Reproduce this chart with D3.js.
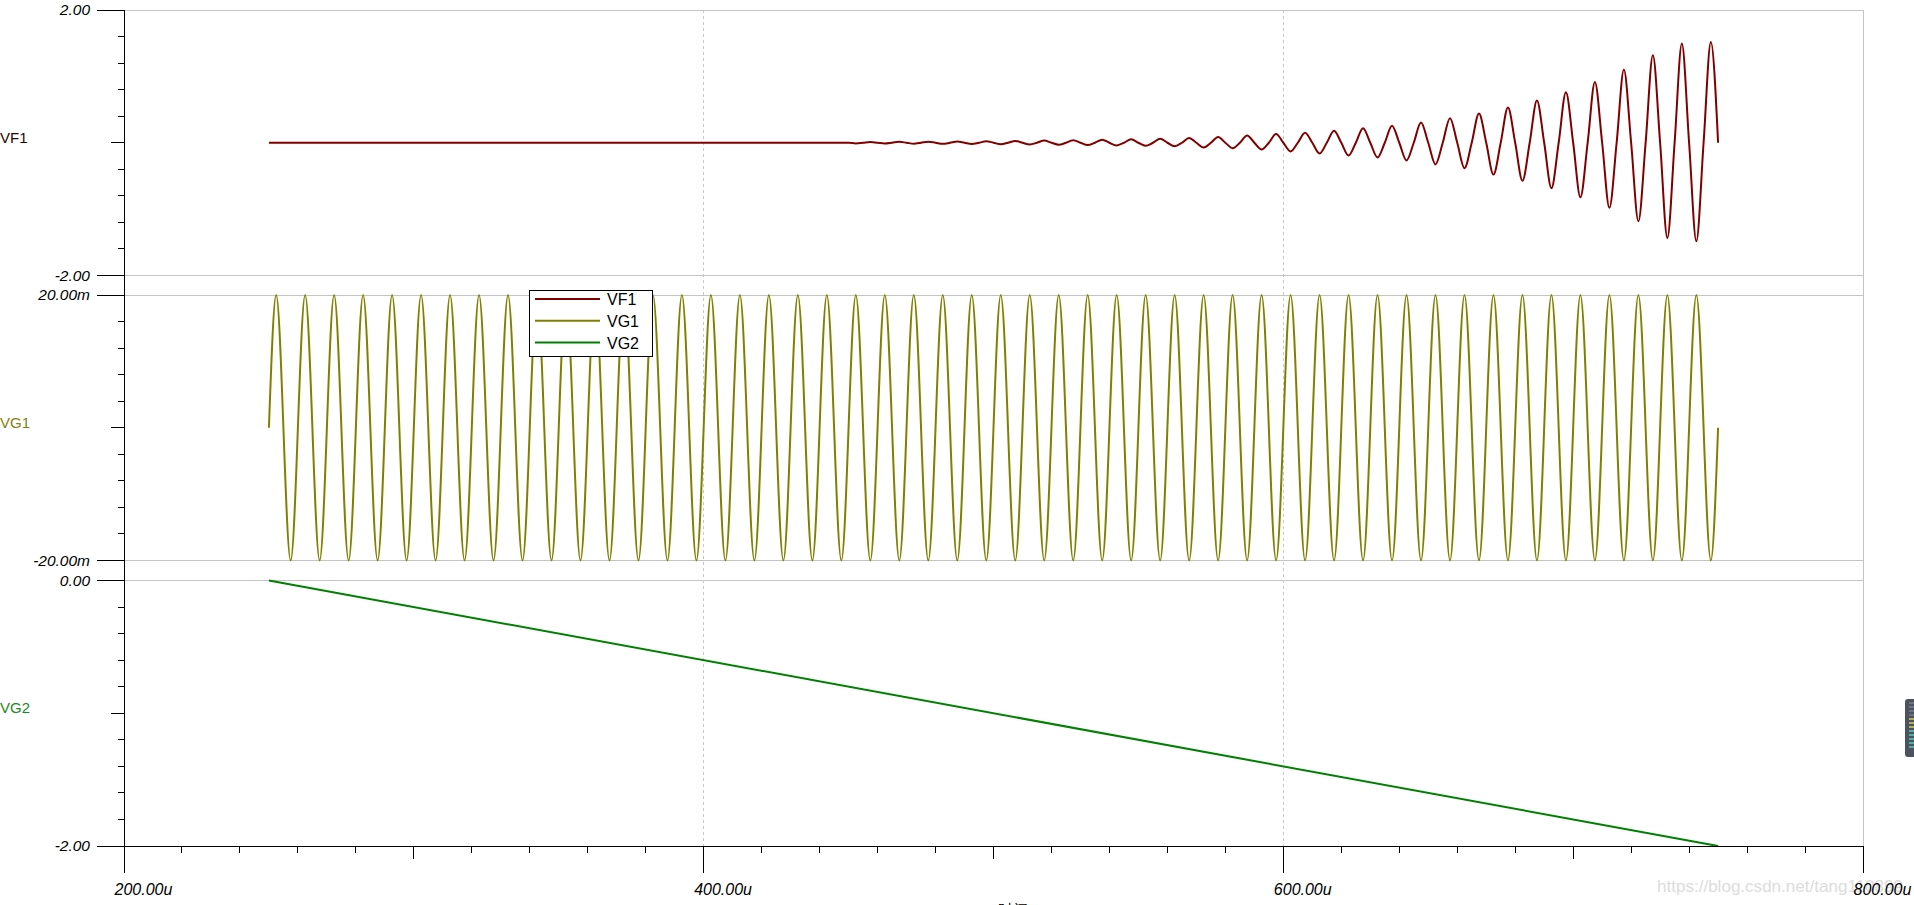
<!DOCTYPE html>
<html>
<head>
<meta charset="utf-8">
<script src="https://cdn.jsdelivr.net/npm/d3@7"></script>
<style>
  html, body { margin: 0; padding: 0; background: #fff; overflow: hidden; }
  svg { display: block; }
  text { font-family: "Liberation Sans", Arial, sans-serif; }
</style>
</head>
<body>
<svg id="chart" width="1914" height="905"></svg>
<script>
// ---------------- data ----------------
const seriesNames = ["VF1", "VG1", "VG2"];
const yTopLabels = ["2.00", "20.00m", "0.00"];
const yBottomLabels = ["-2.00", "-20.00m", "-2.00"];
const yDomains = [[-2, 2], [-20, 20], [-2, 0]];          // VG1 in mV
const xTickLabels = ["200.00u", "400.00u", "600.00u", "800.00u"];
const xTickValues = [200, 400, 600, 800];               // microseconds

// VF1: flat 0 from 250u to 450u, then a growing oscillation (10u period)
const vf1FlatTimes = [250, 450];
const vf1FlatValues = [0, 0];
const vf1TroughTimes = [452.5, 462.5, 472.5, 482.5, 492.5, 502.5, 512.5, 522.5, 532.5, 542.5,
  552.5, 562.5, 572.5, 582.5, 592.5, 602.5, 612.5, 622.5, 632.5, 642.5,
  652.5, 662.5, 672.5, 682.5, 692.5, 702.5, 712.5, 722.5, 732.5, 742.5];
const vf1TroughValues = [-0.010, -0.012, -0.014, -0.016, -0.019, -0.022, -0.026, -0.030, -0.035, -0.040,
  -0.045, -0.053, -0.071, -0.082, -0.101, -0.131, -0.161, -0.192, -0.222, -0.267,
  -0.327, -0.383, -0.479, -0.574, -0.685, -0.821, -0.981, -1.183, -1.434, -1.485];
const vf1PeakTimes = [457.5, 467.5, 477.5, 487.5, 497.5, 507.5, 517.5, 527.5, 537.5, 547.5,
  557.5, 567.5, 577.5, 587.5, 597.5, 607.5, 617.5, 627.5, 637.5, 647.5,
  657.5, 667.5, 677.5, 687.5, 697.5, 707.5, 717.5, 727.5, 737.5, 747.5];
const vf1PeakValues = [0.012, 0.014, 0.016, 0.019, 0.022, 0.027, 0.033, 0.039, 0.045, 0.052,
  0.060, 0.072, 0.088, 0.110, 0.130, 0.151, 0.181, 0.220, 0.257, 0.306,
  0.371, 0.442, 0.532, 0.638, 0.759, 0.915, 1.102, 1.318, 1.494, 1.519];
const vf1CrossTimes = [455, 465, 475, 485, 495, 505, 515, 525, 535, 545, 555, 565, 575, 585, 595,
  605, 615, 625, 635, 645, 655, 665, 675, 685, 695, 705, 715, 725, 735, 745,
  460, 470, 480, 490, 500, 510, 520, 530, 540, 550, 560, 570, 580, 590, 600,
  610, 620, 630, 640, 650, 660, 670, 680, 690, 700, 710, 720, 730, 740, 750];

// VG1: 20mV sine, 10u period, from 250u to 750u (50 cycles); extremes in mV
const vg1Start = 250, vg1End = 750, vg1Period = 10;
const vg1PeakValues = [20, 20, 20, 20, 20, 20, 20, 20, 20, 20, 20, 20, 20, 20, 20, 20, 20, 20, 20, 20, 20, 20, 20, 20, 20,
  20, 20, 20, 20, 20, 20, 20, 20, 20, 20, 20, 20, 20, 20, 20, 20, 20, 20, 20, 20, 20, 20, 20, 20, 20];
const vg1TroughValues = [-20, -20, -20, -20, -20, -20, -20, -20, -20, -20, -20, -20, -20, -20, -20, -20, -20, -20, -20, -20, -20, -20, -20, -20, -20,
  -20, -20, -20, -20, -20, -20, -20, -20, -20, -20, -20, -20, -20, -20, -20, -20, -20, -20, -20, -20, -20, -20, -20, -20, -20];

// VG2: linear ramp
const vg2Times = [250, 750];
const vg2Values = [0, -2];

// ---------------- layout / style ----------------
const colors = { VF1: "#800000", VG1: "#808000", VG2: "#008000" };
const labelColors = { VF1: "#2a0505", VG1: "#8a7d12", VG2: "#1b8a1b" };
const left = 124, right = 1863;
const panelTops = [10, 295, 580.5];
const panelH = 265.5;

const svg = d3.select("#chart");
const x = d3.scaleLinear().domain([200, 800]).range([left, right]);

const yScales = yDomains.map((d, i) =>
  d3.scaleLinear().domain(d).range([panelTops[i] + panelH, panelTops[i]]));

// gray frame lines
const g0 = svg.append("g");
panelTops.forEach((t, i) => {
  g0.append("line").attr("x1", left).attr("x2", right).attr("y1", t).attr("y2", t)
    .attr("stroke", "#c4c4c4").attr("stroke-width", 1).attr("shape-rendering", "crispEdges");
  if (i < 2) {
    g0.append("line").attr("x1", left).attr("x2", right).attr("y1", t + panelH).attr("y2", t + panelH)
      .attr("stroke", "#c4c4c4").attr("stroke-width", 1).attr("shape-rendering", "crispEdges");
  }
});
const bottomY = panelTops[2] + panelH;
g0.append("line").attr("x1", right).attr("x2", right).attr("y1", panelTops[0]).attr("y2", bottomY)
  .attr("stroke", "#c4c4c4").attr("stroke-width", 1).attr("shape-rendering", "crispEdges");
// dashed vertical grid
[400, 600].forEach(v => {
  g0.append("line").attr("x1", x(v)).attr("x2", x(v)).attr("y1", panelTops[0]).attr("y2", bottomY)
    .attr("stroke", "#c8c8c8").attr("stroke-width", 1).attr("stroke-dasharray", "3,3")
    .attr("shape-rendering", "crispEdges");
});

// watermark (under everything else)
svg.append("text").attr("x", 1657).attr("y", 892).attr("font-size", 16.5)
  .attr("textLength", 246).attr("lengthAdjust", "spacingAndGlyphs")
  .attr("fill", "#dcdcdc").text("https://blog.csdn.net/tang110899");

// ---------------- series ----------------
const line = (yS, curve) => d3.line().x(d => x(d[0])).y(d => yS(d[1])).curve(curve);

// VF1
const vf1Pts = [];
vf1FlatTimes.forEach((t, i) => vf1Pts.push([t, vf1FlatValues[i]]));
vf1TroughTimes.forEach((t, i) => vf1Pts.push([t, vf1TroughValues[i]]));
vf1PeakTimes.forEach((t, i) => vf1Pts.push([t, vf1PeakValues[i]]));
vf1CrossTimes.forEach(t => vf1Pts.push([t, 0]));
vf1Pts.sort((a, b) => a[0] - b[0]);
svg.append("path").datum(vf1Pts).attr("d", line(yScales[0], d3.curveMonotoneX))
  .attr("fill", "none").attr("stroke", colors.VF1).attr("stroke-width", 2);

// VG1
const vg1Pts = [];
vg1PeakValues.forEach((v, k) => {
  const t0 = vg1Start + k * vg1Period;
  vg1Pts.push([t0, 0]);
  vg1Pts.push([t0 + vg1Period / 4, v]);
  vg1Pts.push([t0 + vg1Period / 2, 0]);
  vg1Pts.push([t0 + 3 * vg1Period / 4, vg1TroughValues[k]]);
});
vg1Pts.push([vg1End, 0]);
svg.append("path").datum(vg1Pts).attr("d", line(yScales[1], d3.curveNatural))
  .attr("fill", "none").attr("stroke", colors.VG1).attr("stroke-width", 2);

// VG2
svg.append("path").datum(vg2Times.map((t, i) => [t, vg2Values[i]]))
  .attr("d", line(yScales[2], d3.curveLinear))
  .attr("fill", "none").attr("stroke", colors.VG2).attr("stroke-width", 2);

// ---------------- axes ----------------
const ax = svg.append("g").attr("stroke", "#000").attr("stroke-width", 1).attr("shape-rendering", "crispEdges");
// left vertical axis line
ax.append("line").attr("x1", left).attr("x2", left).attr("y1", panelTops[0]).attr("y2", 873);
// bottom horizontal axis line
ax.append("line").attr("x1", left).attr("x2", right).attr("y1", bottomY).attr("y2", bottomY);

yScales.forEach((yS, i) => {
  const d = yDomains[i];
  const step = (d[1] - d[0]) / 10;
  const vals = d3.range(0, 11).map(k => d[0] + k * step);
  vals.forEach((v, k) => {
    const len = (k === 0 || k === 10) ? 27 : (k === 5 ? 13 : 6);
    ax.append("line").attr("x1", left - len).attr("x2", left).attr("y1", yS(v)).attr("y2", yS(v));
  });
  svg.append("text").attr("x", 90).attr("y", yS(d[1]) + 5).attr("text-anchor", "end")
    .attr("font-size", 15.5).attr("font-style", "italic").attr("fill", "#000").text(yTopLabels[i]);
  svg.append("text").attr("x", 90).attr("y", yS(d[0]) + 5).attr("text-anchor", "end")
    .attr("font-size", 15.5).attr("font-style", "italic").attr("fill", "#000").text(yBottomLabels[i]);
  const name = seriesNames[i];
  svg.append("text").attr("x", 0).attr("y", yS((d[0] + d[1]) / 2))
    .attr("font-size", 15).attr("fill", labelColors[name]).text(name);
});

d3.range(200, 801, 20).forEach(v => {
  const major = xTickValues.includes(v);
  const mid = !major && (v % 100 === 0);
  const len = major ? 27 : (mid ? 13 : 7);
  ax.append("line").attr("x1", x(v)).attr("x2", x(v)).attr("y1", bottomY).attr("y2", bottomY + len);
});
xTickValues.forEach((v, i) => {
  svg.append("text").attr("x", x(v) - 9.5).attr("y", 895).attr("font-size", 16)
    .attr("font-style", "italic").attr("fill", "#000").text(xTickLabels[i]);
});
// clipped axis title at the bottom edge
svg.append("text").attr("x", 1013).attr("y", 915).attr("text-anchor", "middle")
  .attr("font-size", 15).attr("fill", "#000").text("时间");

// ---------------- legend ----------------
const lg = svg.append("g");
lg.append("rect").attr("x", 529.5).attr("y", 290.5).attr("width", 123).attr("height", 66)
  .attr("fill", "#fff").attr("stroke", "#000").attr("stroke-width", 1);
seriesNames.forEach((n, i) => {
  const yy = 299 + i * 21.8;
  lg.append("line").attr("x1", 535).attr("x2", 600).attr("y1", yy).attr("y2", yy)
    .attr("stroke", colors[n]).attr("stroke-width", 2);
  lg.append("text").attr("x", 607).attr("y", yy + 6).attr("font-size", 16)
    .attr("fill", "#000").text(n);
});

// small scroll widget on the right edge
const sw = svg.append("g");
sw.append("rect").attr("x", 1905).attr("y", 699).attr("width", 14).attr("height", 58).attr("rx", 3)
  .attr("fill", "#4b5260");
d3.range(0, 12).forEach(k => {
  sw.append("line").attr("x1", 1909).attr("x2", 1914).attr("y1", 703 + k * 4).attr("y2", 703 + k * 4)
    .attr("stroke", k < 4 ? "#7a808c" : (k < 7 ? "#d8d040" : "#50d0b0")).attr("stroke-width", 1.5);
});
</script>
</body>
</html>
